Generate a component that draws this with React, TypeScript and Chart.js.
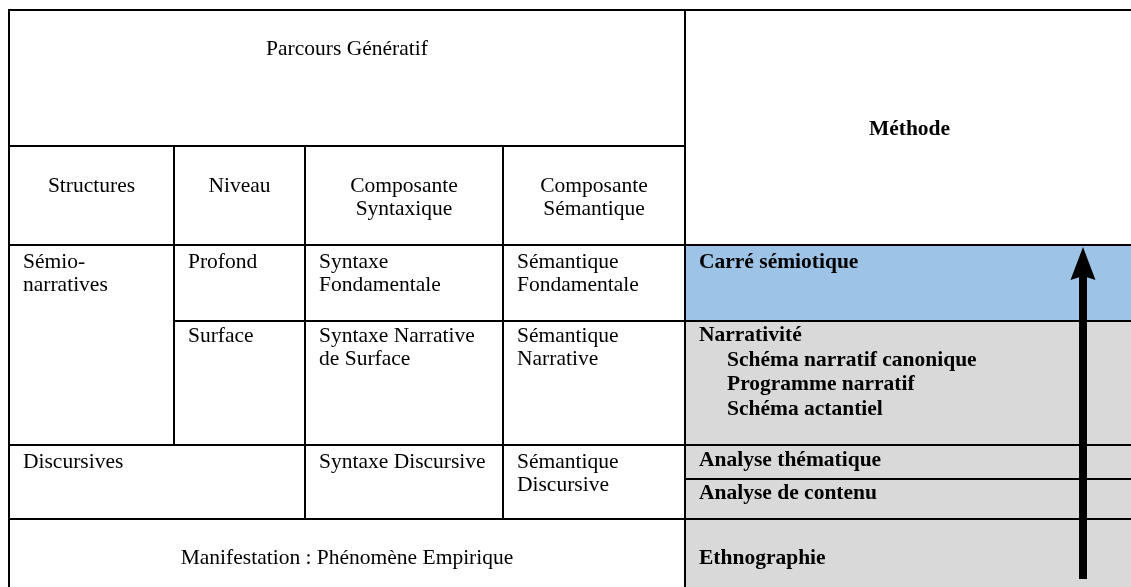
import React, { useEffect, useRef } from "react";
import { Chart, registerables } from "chart.js";

Chart.register(...registerables);

// Grid boundaries of the table (in table units = px of the reference)
const columnBounds = [9, 174, 305, 503, 685, 1134];
const rowBounds = [10, 146, 245, 321, 445, 479, 519, 592];

// Texts
const titleText = ["Parcours Génératif"];
const methodTitle = ["Méthode"];
const headerTexts = [["Structures"], ["Niveau"], ["Composante", "Syntaxique"], ["Composante", "Sémantique"]];
const structureTexts = [["Sémio-", "narratives"], ["Discursives"]];
const levelTexts = [["Profond"], ["Surface"]];
const syntaxTexts = [["Syntaxe", "Fondamentale"], ["Syntaxe Narrative", "de Surface"], ["Syntaxe Discursive"]];
const semanticTexts = [["Sémantique", "Fondamentale"], ["Sémantique", "Narrative"], ["Sémantique", "Discursive"]];
const manifestationText = ["Manifestation : Phénomène Empirique"];
const methodTexts = [
  ["Carré sémiotique"],
  ["Narrativité", "Schéma narratif canonique", "Programme narratif", "Schéma actantiel"],
  ["Analyse thématique"],
  ["Analyse de contenu"],
  ["Ethnographie"],
];
const methodIndents = [[0], [0, 1, 1, 1], [0], [0], [0]];

// Arrow (from bottom to top), in table units
const arrowFrom = { x: 1083, y: 579 };
const arrowTo = { x: 1083, y: 247 };

const BLUE = "#9DC3E6";
const GRAY = "#D9D9D9";

type Cell = {
  c: [number, number];
  r: [number, number];
  lines: string[];
  indents?: number[];
  bold?: boolean;
  align: "left" | "center";
  valign: "top" | "middle";
  offset?: number;
  gap?: number;
  fill?: string;
};

const cells: Cell[] = [
  { c: [0, 4], r: [0, 1], lines: titleText, align: "center", valign: "top", offset: 45 },
  { c: [4, 5], r: [0, 2], lines: methodTitle, bold: true, align: "center", valign: "middle" },
  ...headerTexts.map((t, i) => ({ c: [i, i + 1] as [number, number], r: [1, 2] as [number, number], lines: t, align: "center" as const, valign: "top" as const, offset: 46 })),
  { c: [0, 1], r: [2, 4], lines: structureTexts[0], align: "left", valign: "top", offset: 23 },
  { c: [1, 2], r: [2, 3], lines: levelTexts[0], align: "left", valign: "top", offset: 23 },
  { c: [2, 3], r: [2, 3], lines: syntaxTexts[0], align: "left", valign: "top", offset: 23 },
  { c: [3, 4], r: [2, 3], lines: semanticTexts[0], align: "left", valign: "top", offset: 23 },
  { c: [1, 2], r: [3, 4], lines: levelTexts[1], align: "left", valign: "top", offset: 21 },
  { c: [2, 3], r: [3, 4], lines: syntaxTexts[1], align: "left", valign: "top", offset: 21, gap: 23 },
  { c: [3, 4], r: [3, 4], lines: semanticTexts[1], align: "left", valign: "top", offset: 21, gap: 23 },
  { c: [0, 2], r: [4, 6], lines: structureTexts[1], align: "left", valign: "top", offset: 23 },
  { c: [2, 3], r: [4, 6], lines: syntaxTexts[2], align: "left", valign: "top", offset: 23 },
  { c: [3, 4], r: [4, 6], lines: semanticTexts[2], align: "left", valign: "top", offset: 23 },
  { c: [0, 4], r: [6, 7], lines: manifestationText, align: "center", valign: "top", offset: 45 },
  { c: [4, 5], r: [2, 3], lines: methodTexts[0], indents: methodIndents[0], bold: true, align: "left", valign: "top", offset: 23, fill: BLUE },
  { c: [4, 5], r: [3, 4], lines: methodTexts[1], indents: methodIndents[1], bold: true, align: "left", valign: "top", offset: 20, gap: 24.5, fill: GRAY },
  { c: [4, 5], r: [4, 5], lines: methodTexts[2], indents: methodIndents[2], bold: true, align: "left", valign: "top", offset: 21, fill: GRAY },
  { c: [4, 5], r: [5, 6], lines: methodTexts[3], indents: methodIndents[3], bold: true, align: "left", valign: "top", offset: 20, fill: GRAY },
  { c: [4, 5], r: [6, 7], lines: methodTexts[4], indents: methodIndents[4], bold: true, align: "left", valign: "top", offset: 45, fill: GRAY },
];

const tablePlugin = {
  id: "tablePlugin",
  beforeDatasetsDraw(chart: any) {
    const { ctx, scales } = chart;
    const xs = scales.x;
    const ys = scales.y;
    ctx.save();
    // fills
    cells.forEach((cell) => {
      if (!cell.fill) return;
      const x0 = xs.getPixelForValue(columnBounds[cell.c[0]]);
      const x1 = xs.getPixelForValue(columnBounds[cell.c[1]]);
      const y0 = ys.getPixelForValue(rowBounds[cell.r[0]]);
      const y1 = ys.getPixelForValue(rowBounds[cell.r[1]]);
      ctx.fillStyle = cell.fill;
      ctx.fillRect(x0, y0, x1 - x0, y1 - y0);
    });
    // borders
    ctx.strokeStyle = "#000";
    ctx.lineWidth = 2;
    cells.forEach((cell) => {
      const x0 = xs.getPixelForValue(columnBounds[cell.c[0]]);
      const x1 = xs.getPixelForValue(columnBounds[cell.c[1]]);
      const y0 = ys.getPixelForValue(rowBounds[cell.r[0]]);
      const y1 = ys.getPixelForValue(rowBounds[cell.r[1]]);
      ctx.strokeRect(x0, y0, x1 - x0, y1 - y0);
    });
    // texts
    ctx.fillStyle = "#000";
    ctx.textBaseline = "alphabetic";
    cells.forEach((cell) => {
      const x0 = xs.getPixelForValue(columnBounds[cell.c[0]]);
      const x1 = xs.getPixelForValue(columnBounds[cell.c[1]]);
      const y0 = ys.getPixelForValue(rowBounds[cell.r[0]]);
      const y1 = ys.getPixelForValue(rowBounds[cell.r[1]]);
      ctx.font = `${cell.bold ? "bold " : ""}21.5px "Liberation Serif", "Times New Roman", serif`;
      const gap = cell.gap ?? 22.5;
      let base: number;
      if (cell.valign === "middle") {
        base = (y0 + y1) / 2 + 7 - ((cell.lines.length - 1) * gap) / 2;
      } else {
        base = y0 + (cell.offset ?? 21);
      }
      cell.lines.forEach((line, i) => {
        const indent = cell.indents ? cell.indents[i] * 28 : 0;
        if (cell.align === "center") {
          ctx.textAlign = "center";
          ctx.fillText(line, (x0 + x1) / 2, base + i * gap);
        } else {
          ctx.textAlign = "left";
          ctx.fillText(line, x0 + 14 + indent, base + i * gap);
        }
      });
    });
    ctx.restore();
  },
  afterDatasetsDraw(chart: any) {
    const { ctx, scales } = chart;
    const xs = scales.x;
    const ys = scales.y;
    const tx = xs.getPixelForValue(arrowTo.x);
    const ty = ys.getPixelForValue(arrowTo.y);
    ctx.save();
    ctx.fillStyle = "#000";
    ctx.beginPath();
    ctx.moveTo(tx, ty);
    ctx.lineTo(tx + 12.5, ty + 33);
    ctx.lineTo(tx, ty + 29);
    ctx.lineTo(tx - 12.5, ty + 33);
    ctx.closePath();
    ctx.fill();
    ctx.restore();
  },
};

export default function App() {
  const canvasRef = useRef<HTMLCanvasElement | null>(null);

  useEffect(() => {
    if (!canvasRef.current) return;
    const chart = new Chart(canvasRef.current, {
      type: "scatter",
      data: {
        datasets: [
          {
            data: [
              { x: arrowFrom.x, y: arrowFrom.y },
              { x: arrowTo.x, y: arrowTo.y + 28 },
            ],
            showLine: true,
            borderColor: "#000",
            borderWidth: 8,
            borderCapStyle: "butt",
            pointRadius: 0,
            pointHoverRadius: 0,
          } as any,
        ],
      },
      options: {
        animation: false,
        responsive: true,
        maintainAspectRatio: false,
        layout: { padding: 0 },
        events: [],
        scales: {
          x: { type: "linear", min: 0, max: 1131, display: false },
          y: { type: "linear", min: 0, max: 587, reverse: true, display: false },
        },
        plugins: {
          legend: { display: false },
          tooltip: { enabled: false },
        },
      },
      plugins: [tablePlugin],
    });
    return () => chart.destroy();
  }, []);

  return (
    <div style={{ position: "fixed", left: 0, top: 0, width: 1131, height: 587, background: "#fff" }}>
      <canvas ref={canvasRef} />
    </div>
  );
}
